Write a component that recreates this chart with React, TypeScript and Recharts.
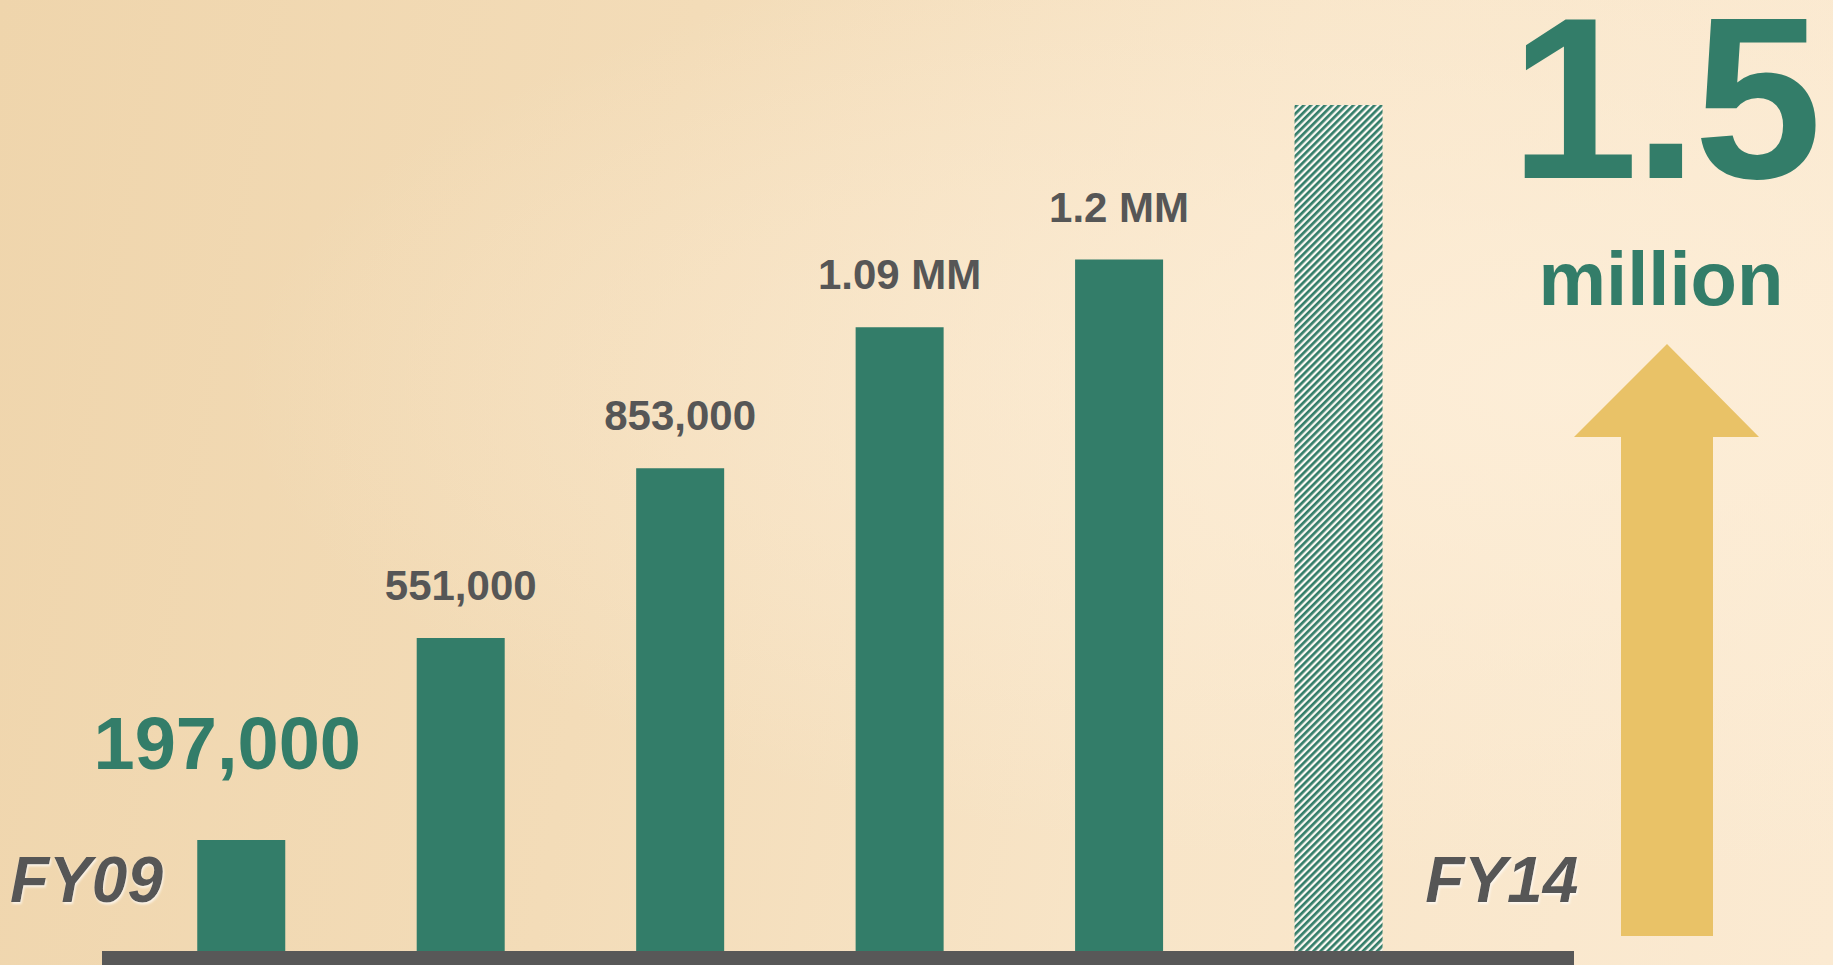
import { BarChart, Bar, XAxis, YAxis, Cell, LabelList } from "recharts";

const years = ["FY09", "FY10", "FY11", "FY12", "FY13", "FY14"];
const users = [197000, 555000, 856000, 1106000, 1226000, 1500000];
const valueLabels = ["197,000", "551,000", "853,000", "1.09 MM", "1.2 MM", ""];
const shownYears = ["FY09", "FY14"];
const headline = ["1.5", "million"];

const data = years.map((y, i) => ({ year: y, users: users[i], label: valueLabels[i] }));

const green = "#337d69";
const gray = "#565656";
const gold = "#e9c267";
const font = "'Liberation Sans', Arial, sans-serif";

const ValueLabel = (props: any) => {
  const { x, y, width, index } = props;
  const text = valueLabels[index];
  if (!text) return null;
  const cx = x + width / 2;
  if (index === 0) {
    return (
      <text x={cx - 14} y={y - 71} textAnchor="middle" fontFamily={font} fontWeight={700} fontSize={74} fill={green}>
        {text}
      </text>
    );
  }
  return (
    <text x={cx} y={y - 38} textAnchor="middle" fontFamily={font} fontWeight={700} fontSize={42} fill={gray}>
      {text}
    </text>
  );
};

const YearTick = (props: any) => {
  const { x, y, payload, index } = props;
  if (!shownYears.includes(payload.value)) return null;
  const first = index === 0;
  return (
    <text
      x={first ? x - 78 : x + 87}
      y={y - 49}
      textAnchor={first ? "end" : "start"}
      fontFamily={font}
      fontWeight={700}
      fontStyle="italic"
      fontSize={64}
      fill={gray}
      filter="url(#soft)"
    >
      {payload.value}
    </text>
  );
};

export default function App() {
  return (
    <div
      style={{
        position: "absolute",
        left: 0,
        top: 0,
        width: 1833,
        height: 965,
        overflow: "hidden",
        background:
          "radial-gradient(ellipse at 85% 40%, rgba(253,238,216,0.9) 0%, rgba(253,238,216,0) 60%), linear-gradient(100deg, #efd5ac 0%, #f3dcb8 35%, #f8e5c8 65%, #fbead2 100%)",
      }}
    >
      <BarChart
        width={1833}
        height={965}
        data={data}
        margin={{ top: 105, right: 259, bottom: 0, left: 102 }}
      >
        <defs>
          <pattern id="hatch" width="5" height="5" patternUnits="userSpaceOnUse" patternTransform="rotate(45)">
            <rect width="5" height="5" fill="#fbf8f2" />
            <rect width="2.7" height="5" fill={green} />
          </pattern>
          <filter id="soft" x="-10%" y="-10%" width="120%" height="130%">
            <feDropShadow dx="1" dy="2" stdDeviation="1" floodColor="#ffffff" floodOpacity="0.7" />
          </filter>
        </defs>
        <YAxis hide domain={[0, 1500000]} />
        <XAxis
          dataKey="year"
          height={14}
          padding={{ left: 29.25, right: 126 }}
          tickLine={false}
          tickSize={0}
          tickMargin={0}
          axisLine={{ stroke: "#585858", strokeWidth: 14, transform: "translate(0,7)" }}
          tick={<YearTick />}
          interval={0}
        />
        <Bar dataKey="users" barSize={88} isAnimationActive={false}>
          {data.map((d, i) => (
            <Cell key={d.year} fill={i === data.length - 1 ? "url(#hatch)" : green} />
          ))}
          <LabelList dataKey="label" content={<ValueLabel />} />
        </Bar>
      </BarChart>
      <svg width={1833} height={965} style={{ position: "absolute", left: 0, top: 0, pointerEvents: "none" }}>
        <text x={1664} y={178} textAnchor="middle" fontFamily={font} fontWeight={700} fontSize={230} letterSpacing={-4} fill={green}>
          {headline[0]}
        </text>
        <text x={1661} y={305} textAnchor="middle" fontFamily={font} fontWeight={700} fontSize={76} fill={green}>
          {headline[1]}
        </text>
        <polygon points="1667,344 1759,437 1713,437 1713,936 1621,936 1621,437 1574,437" fill={gold} />
      </svg>
    </div>
  );
}
